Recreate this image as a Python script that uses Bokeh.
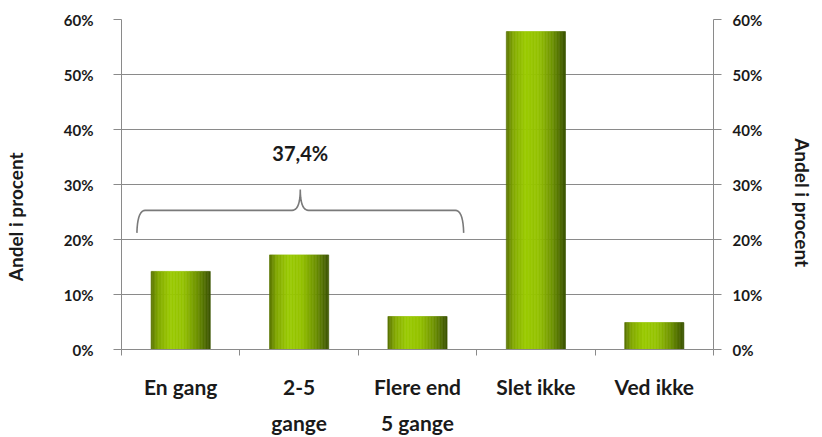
import numpy as np
from bokeh.plotting import figure
from bokeh.models import ColumnDataSource, FixedTicker, LinearAxis, Range1d
from bokeh.embed import file_html
from bokeh.resources import INLINE
from bokeh.core.properties import value

# --- data -------------------------------------------------------------
categories = ["En gang", "2-5\ngange", "Flere end\n5 gange", "Slet ikke", "Ved ikke"]
shares = [14.2, 17.2, 6.0, 57.8, 4.9]          # percent of respondents
y_ticks = [0, 10, 20, 30, 40, 50, 60]
y_tick_labels = ["0%", "10%", "20%", "30%", "40%", "50%", "60%"]
group_members = [0, 1, 2]                        # categories summed under the brace
axis_title = "Andel i procent"

FONT = "Lato"
TEXT = "#1a1a1a"
GRID = "#8a8a8a"
NBSP = "\u00a0"

p = figure(width=822, height=437, output_backend="svg", toolbar_location=None,
           x_range=Range1d(0, len(categories)), y_range=Range1d(0, 60),
           min_border_left=121, min_border_right=109, min_border_top=19,
           min_border_bottom=85)
p.outline_line_color = None
p.background_fill_color = "white"
p.border_fill_color = "white"

# --- bars with a horizontal cylinder-like shading -------------------
stops_t = [0.0, 0.12, 0.32, 0.55, 0.78, 1.0]
stops_c = [(0x56, 0x70, 0x00), (0x82, 0xa8, 0x00), (0x9a, 0xca, 0x00),
           (0x94, 0xc2, 0x00), (0x6e, 0x92, 0x00), (0x3a, 0x52, 0x00)]


def shade(t):
    rgb = [int(round(np.interp(t, stops_t, [c[k] for c in stops_c]))) for k in range(3)]
    return "#%02x%02x%02x" % tuple(rgb)


bar_w = 0.5
n_strips = 40
xs, tops, widths, colors = [], [], [], []
for i, v in enumerate(shares):
    center = i + 0.5
    for j in range(n_strips):
        t = (j + 0.5) / n_strips
        xs.append(center - bar_w / 2 + t * bar_w)
        tops.append(v)
        widths.append(bar_w / n_strips)
        colors.append(shade(t))

strips = ColumnDataSource(dict(x=xs, top=tops, w=widths, c=colors))
p.vbar(x="x", top="top", bottom=0, width="w", source=strips,
       fill_color="c", line_color="c", line_width=0.6)

# --- brace over the first three categories ---------------------------
g0, g1 = min(group_members), max(group_members)
bx0, bx1 = g0 + 0.13, g1 + 1 - 0.11
bmid = (bx0 + bx1) / 2
y_end = max(shares[k] for k in group_members) + 4.0
y_bar = y_end + 4.1
y_tip = y_bar + 3.8


def qcurve(p0, p1, p2, n=10):
    t = np.linspace(0, 1, n)
    x = (1 - t) ** 2 * p0[0] + 2 * (1 - t) * t * p1[0] + t ** 2 * p2[0]
    y = (1 - t) ** 2 * p0[1] + 2 * (1 - t) * t * p1[1] + t ** 2 * p2[1]
    return list(x), list(y)


dx = 0.07
path_x, path_y = [], []
for seg in [((bx0, y_end), (bx0 + 0.005, y_bar), (bx0 + dx, y_bar)),
            ((bmid - dx, y_bar), (bmid, y_bar), (bmid, y_tip)),
            ((bmid, y_tip), (bmid, y_bar), (bmid + dx, y_bar)),
            ((bx1 - dx, y_bar), (bx1 - 0.005, y_bar), (bx1, y_end))]:
    cx, cy = qcurve(*seg)
    path_x += cx
    path_y += cy
p.line(path_x, path_y, line_color="#7a7a7a", line_width=1.6)

group_total = sum(shares[k] for k in group_members)
p.text(x=[bmid], y=[y_tip + 6.7], text=[f"{group_total:.1f}%".replace(".", ",")],
       text_font=value(FONT), text_font_style="bold", text_font_size="20px",
       text_color=TEXT, text_align="center", text_baseline="middle")

# --- axes -------------------------------------------------------------
tick_map = {t: l for t, l in zip(y_ticks, y_tick_labels)}


def style_y(ax, standoff, label, label_standoff):
    ax.ticker = FixedTicker(ticks=y_ticks)
    ax.major_label_overrides = tick_map
    ax.axis_line_color = GRID
    ax.major_tick_line_color = GRID
    ax.major_tick_out = 8
    ax.major_tick_in = 0
    ax.minor_tick_line_color = None
    ax.major_label_standoff = standoff
    ax.major_label_text_font = FONT
    ax.major_label_text_font_style = "bold"
    ax.major_label_text_font_size = "15px"
    ax.major_label_text_color = TEXT
    ax.axis_label = label
    ax.axis_label_standoff = label_standoff
    ax.axis_label_text_font = FONT
    ax.axis_label_text_font_style = "bold"
    ax.axis_label_text_font_size = "19px"
    ax.axis_label_text_color = TEXT


# titles sit a little below the frame centre: pad them with non-breaking spaces
style_y(p.yaxis[0], 20, axis_title + NBSP * 14, 34)
right = LinearAxis()
style_y(right, 11, NBSP * 8 + axis_title, 26)
p.add_layout(right, "right")

xa = p.xaxis[0]
xa.ticker = FixedTicker(ticks=[i + 0.5 for i in range(len(categories))],
                        minor_ticks=list(range(len(categories) + 1)))
xa.major_label_overrides = {i + 0.5: c for i, c in enumerate(categories)}
xa.axis_line_color = GRID
xa.major_tick_line_color = None
xa.minor_tick_line_color = GRID
xa.minor_tick_out = 6
xa.minor_tick_in = 0
xa.major_label_standoff = 18
xa.major_label_text_font = FONT
xa.major_label_text_font_style = "bold"
xa.major_label_text_font_size = "21px"
xa.major_label_text_color = TEXT
xa.major_label_text_line_height = 1.45

p.xgrid.grid_line_color = None
p.ygrid.ticker = FixedTicker(ticks=y_ticks)
p.ygrid.grid_line_color = GRID
p.ygrid.grid_line_width = 1

open("out.html", "w").write(file_html(p, INLINE))
